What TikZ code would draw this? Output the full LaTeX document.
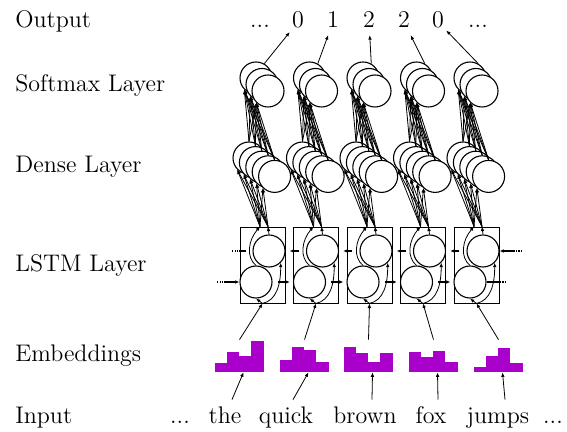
\documentclass[tikz,border=0pt]{standalone}
\usepackage{tikz}
\usetikzlibrary{positioning,arrows.meta,calc}
\definecolor{cEmb}{HTML}{AA00CC}
\tikzset{
	lbl/.style={anchor=base west, font=\fontsize{12}{14}\selectfont, inner sep=0pt},
	word/.style={anchor=base, font=\fontsize{12}{14}\selectfont, text height=8.5pt, text depth=2.4pt, inner sep=3pt},
	unit/.style={circle, draw, fill=white, line width=0.55pt, minimum size=16pt, inner sep=0pt},
	cell/.style={draw, line width=0.45pt, minimum width=22.5pt, minimum height=38pt, inner sep=0pt},
	emb/.style={minimum width=24.5pt, minimum height=16pt, inner sep=0pt},
	arr/.style={-{Latex[length=2.2pt,width=1.8pt]}, line width=0.4pt},
	rec/.style={-{Latex[length=2.2pt,width=1.8pt]}, line width=0.55pt},
	dots/.style={line width=1.1pt, dash pattern=on 0.7pt off 0.55pt},
}

\begin{document}
\begin{tikzpicture}[x=0.5pt,y=-0.5pt]
	\useasboundingbox (0,0) rectangle (567,432);
	% row labels
	\node[lbl] (lOut) at (15,28) {Output};
	\node[lbl] (lSoft) at (15,92) {Softmax Layer};
	\node[lbl] (lDense) at (15,173) {Dense Layer};
	\node[lbl] (lLstm) at (15,272) {LSTM Layer};
	\node[lbl] (lEmb) at (15,362) {Embeddings};
	\node[lbl] (lIn) at (15,423) {Input};
	% outputs and input words
	\node[word] (oL) at (260,28) {...};
	\node[word] (oR) at (478,28) {...};
	\foreach \x/\t [count=\i] in {298/0,333/1,369/2,404/2,438/0}
		\node[word, inner sep=1pt] (o\i) at (\x,28) {\t};
	\node[word] (wL) at (180,423) {...};
	\node[word] (wR) at (553,423) {...};
	\foreach \x/\t [count=\i] in {225/the,286/quick,365/brown,431/fox,498/jumps}
		\node[word] (w\i) at (\x,423) {\t};
	% embeddings
	\foreach \i/\cx in {1/239.5,2/304.5,3/368.5,4/433.5,5/498.5}
		\node[emb] (e\i) at (\cx,356) {};
	\foreach \i/\a/\b/\c/\d in {1/9/20/16/31,2/12/25/22/10,3/25/19/10/19,4/20/15/21/10,5/5/16/24/9}
		\foreach \h [count=\j from 0] in {\a,\b,\c,\d}
			\fill[cEmb] ([xshift=6.125pt*\j]e\i.south west) rectangle +(12.25,-\h);
	% one column per time step
	\foreach \i in {1,...,5}{
		\pgfmathsetmacro{\dx}{53.5*(\i-1)}
		\node[cell] (c\i) at (262.5+\dx,265) {};
		\node[unit] (f\i) at (256+\dx,282) {};
		\node[unit] (b\i) at (269+\dx,251) {};
		\coordinate (pa\i) at ($(c\i.north)+(-2.5,0)$);
		\coordinate (pb\i) at ($(c\i.north)+(5.5,0)$);
		\foreach \k in {0,...,4}
			\node[unit] (d\i-\k) at (249+\dx+6.4*\k,158+4.6*\k) {};
		\foreach \k in {0,1,2}
			\node[unit] (s\i-\k) at (256+\dx+6*\k,78+6.5*\k) {};
		\draw[arr] ([xshift=3.5pt]w\i.north) -- ([xshift=2pt]e\i.south);
		\draw[arr] (e\i.north) -- (c\i.south);
		\draw[arr] (c\i.south) -- (f\i.south);
		\draw[arr] (c\i.south) .. controls +(14,-3) and +(0,22) .. (b\i.south east);
		\draw[arr] (f\i.north) .. controls +(-10,-8) and +(-12,14) .. (pa\i);
		\draw[arr] (b\i.north) -- (pb\i);
		\foreach \k in {0,...,4}{
			\draw[arr] (pa\i) -- (d\i-\k.south west);
			\draw[arr] (pb\i) -- (d\i-\k.south west);
			\foreach \m in {0,1,2}
				\draw[arr] (d\i-\k.north) -- (s\i-\m.south west);
		}
		\draw[arr] (s\i-0.60) -- (o\i);
	}
	% recurrent connections
	\foreach \i [evaluate=\i as \j using int(\i+1)] in {1,...,4}{
		\draw[rec, shorten <=2.5pt, shorten >=1.5pt] (f\i.east) -- (f\j.west);
		\draw[rec, shorten <=3.5pt, shorten >=2pt] (b\j.west) -- (b\i.east);
	}
	\coordinate (fin) at (217,282);
	\coordinate (fout) at (506,282);
	\coordinate (bin) at (522,251);
	\coordinate (bout) at (232,251);
	\draw[dots] (fin) -- +(7,0);
	\draw[rec] ([xshift=3.5pt]fin) -- (f1.west);
	\draw[line width=0.55pt] (f5.east) -- ([xshift=-3.5pt]fout);
	\draw[dots] (fout) -- +(-7,0);
	\draw[dots] (bin) -- +(-8,0);
	\draw[rec] ([xshift=-4pt]bin) -- (b5.east);
	\draw[line width=0.55pt, shorten <=3pt] (b1.west) -- ([xshift=3.5pt]bout);
	\draw[dots] (bout) -- +(7,0);
\end{tikzpicture}
\end{document}
